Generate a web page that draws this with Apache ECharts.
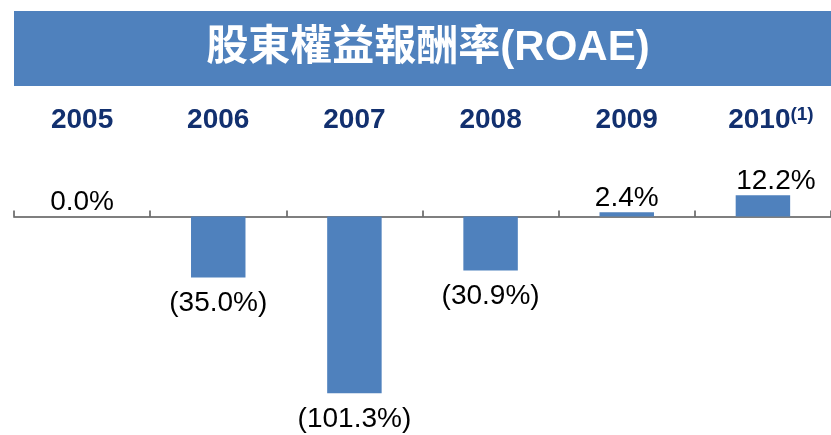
<!DOCTYPE html>
<html>
<head>
<meta charset="utf-8">
<script src="https://cdn.jsdelivr.net/npm/echarts@6/dist/echarts.min.js"></script>
<style>
html,body{margin:0;padding:0;background:#fff;}
#chart{width:831px;height:435px;}
</style>
</head>
<body>
<div id="chart"></div>
<script>
const titleText = '股東權益報酬率(ROAE)';
const years = ['2005', '2006', '2007', '2008', '2009', '2010'];
const yearNotes = ['', '', '', '', '', '(1)'];
const roae = [0.0, -35.0, -101.3, -30.9, 2.4, 12.2];

const FONT = '"Liberation Sans", Arial, "Noto Sans CJK TC", sans-serif';
const chart = echarts.init(document.getElementById('chart'), null, {renderer: 'canvas'});

function fmt(v) {
  return v < 0 ? '(' + Math.abs(v).toFixed(1) + '%)' : v.toFixed(1) + '%';
}

const barData = roae.map((v, i) => {
  const item = {
    value: v,
    label: {
      position: v < 0 ? 'bottom' : 'top',
      distance: v < 0 ? 12 : 0
    }
  };
  if (i === roae.length - 1) item.label.offset = [13, 0];
  return item;
});

chart.setOption({
  animation: false,
  backgroundColor: '#ffffff',
  graphic: [
    {
      type: 'rect',
      left: 14, top: 11,
      shape: {width: 817, height: 75},
      style: {fill: '#4F81BD'},
      z: 0
    },
    {
      type: 'text',
      x: 428, y: 48.5,
      style: {
        text: titleText,
        fill: '#ffffff',
        font: 'bold 42px ' + FONT,
        align: 'center',
        verticalAlign: 'middle'
      },
      z: 1
    }
  ],
  grid: {left: 14, top: 181.6, width: 825, height: 244.3, containLabel: false},
  xAxis: [
    {
      type: 'category',
      data: years,
      position: 'bottom',
      axisLine: {show: true, onZero: true, lineStyle: {color: '#7F7F7F', width: 2}},
      axisTick: {show: true, inside: true, length: 6, lineStyle: {color: '#555555', width: 1.5}},
      axisLabel: {show: false},
      splitLine: {show: false}
    },
    {
      type: 'category',
      data: years,
      position: 'top',
      axisLine: {show: false},
      axisTick: {show: false},
      splitLine: {show: false},
      axisLabel: {
        show: true,
        margin: 46,
        formatter: function (val, idx) {
          return yearNotes[idx] ? '{b|' + val + '}{s|' + yearNotes[idx] + '}' : '{a|' + val + '}';
        },
        rich: {
          a: {fontSize: 28, fontWeight: 'bold', color: '#12306F', fontFamily: FONT, lineHeight: 30},
          b: {fontSize: 28, fontWeight: 'bold', color: '#12306F', fontFamily: FONT, lineHeight: 30, padding: [0, 0, 0, 16]},
          s: {fontSize: 19, fontWeight: 'bold', color: '#12306F', fontFamily: FONT, lineHeight: 19, verticalAlign: 'top'}
        }
      }
    }
  ],
  yAxis: {
    type: 'value',
    min: -120,
    max: 20,
    show: false,
    splitLine: {show: false}
  },
  series: [
    {
      type: 'bar',
      xAxisIndex: 0,
      data: barData,
      barWidth: '40%',
      itemStyle: {color: '#4F81BD'},
      label: {
        show: true,
        color: '#000000',
        fontSize: 28,
        fontFamily: FONT,
        formatter: p => fmt(p.value)
      }
    }
  ]
});
</script>
</body>
</html>
